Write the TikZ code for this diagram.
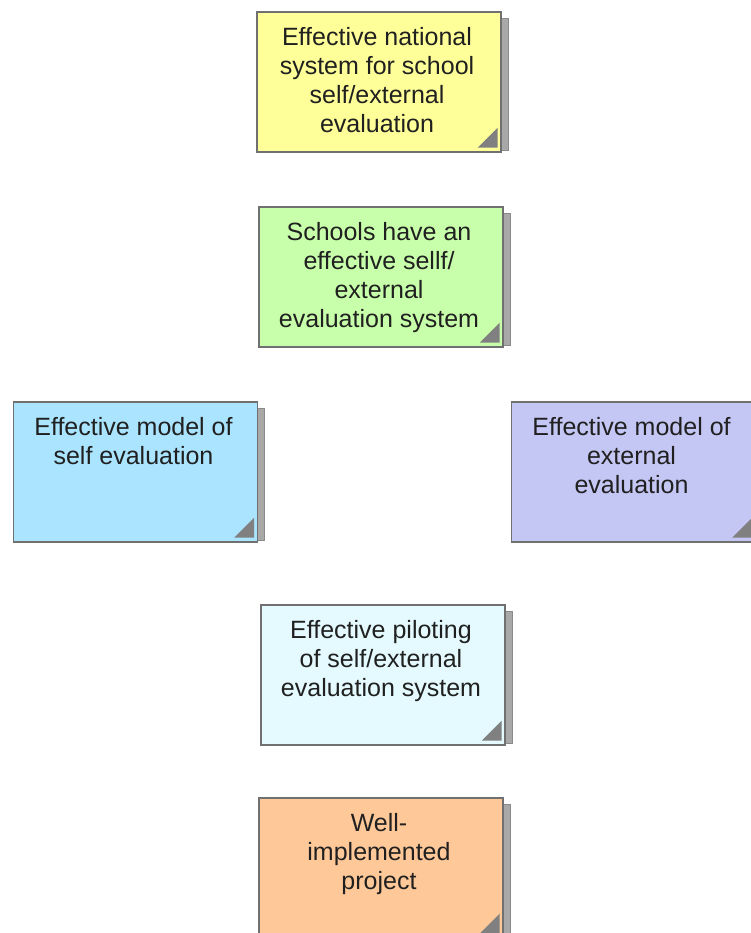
\documentclass[tikz,border=0pt]{standalone}
\usepackage{fontspec}
\setmainfont{Liberation Sans}
\definecolor{cardedge}{HTML}{707070}
\definecolor{textc}{HTML}{202020}
\definecolor{tric}{HTML}{808080}
\definecolor{shadec}{HTML}{A8A8A8}
\definecolor{shadeedge}{HTML}{8A8A8A}
\definecolor{cyellow}{HTML}{FFFF99}
\definecolor{cgreen}{HTML}{C8FFAA}
\definecolor{cblue}{HTML}{AAE4FF}
\definecolor{clav}{HTML}{C4C6F4}
\definecolor{ccyan}{HTML}{E4FAFF}
\definecolor{cpeach}{HTML}{FFC898}
\tikzset{
  card/.style={draw=cardedge, line width=1.3pt, minimum width=244pt, minimum height=140pt, inner sep=0pt},
  cardtext/.style={font=\fontsize{25}{29}\selectfont, align=center, text=textc, inner sep=0pt},
  corner/.style={fill=tric},
  shade/.style={fill=shadec, draw=shadeedge, line width=0.8pt}
}
\newcommand\mycard[5]{%
  \filldraw[shade] (#2+119,#3-64) rectangle (#2+129,#3+68);
  \node[card, fill=#4] (#1) at (#2,#3) {};
  \fill[corner] ([shift={(-4pt,5pt)}]#1.south east) -- ([shift={(-4pt,25pt)}]#1.south east) -- ([shift={(-24pt,5pt)}]#1.south east) -- cycle;
  \node[cardtext, anchor=north] (#1t) at ([shift={(-2pt,-16pt)}]#1.north) {#5};
}
\begin{document}
\begin{tikzpicture}[x=1pt,y=-1pt]
\useasboundingbox (0,0) rectangle (751,933);
\clip (0,0) rectangle (751,933);
\fill[white] (0,0) rectangle (751,933);
\mycard{a}{379}{82}{cyellow}{Effective national\\system for school\\self/external\\evaluation}
\mycard{b}{381}{277}{cgreen}{Schools have an\\effective sellf/\\external\\evaluation system}
\mycard{c}{135.5}{472}{cblue}{Effective model of\\self evaluation}
\mycard{d}{633.5}{472}{clav}{Effective model of\\external\\evaluation}
\mycard{e}{383}{675}{ccyan}{Effective piloting\\of self/external\\evaluation system}
\mycard{f}{381}{868}{cpeach}{Well-\\implemented\\project}
\end{tikzpicture}
\end{document}
